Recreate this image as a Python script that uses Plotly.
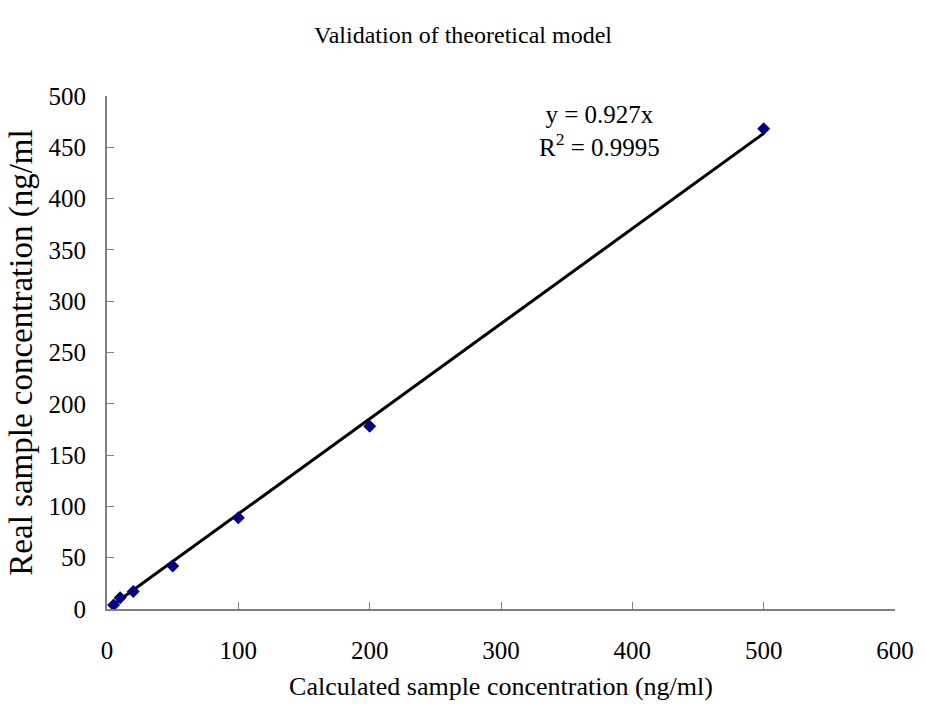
import plotly.graph_objects as go

# Calculated vs. real sample concentrations (ng/ml)
calculated = [5, 10, 20, 50, 100, 200, 500]
real = [4, 11, 17, 42, 89, 178, 468]

# Linear fit forced through the origin
slope = 0.927
r_squared = 0.9995
fit_x = [min(calculated), max(calculated)]
fit_y = [slope * v for v in fit_x]

font_family = "Liberation Serif, Times New Roman, serif"
axis_grey = "#808080"

fig = go.Figure()
fig.add_trace(go.Scatter(
    x=fit_x, y=fit_y, mode="lines",
    line=dict(color="black", width=3),
    showlegend=False, hoverinfo="skip",
))
fig.add_trace(go.Scatter(
    x=calculated, y=real, mode="markers",
    marker=dict(symbol="diamond", color="#000080", size=10),
    showlegend=False,
))

fig.add_annotation(
    x=0.625, y=0.995, xref="paper", yref="paper",
    text=f"y = {slope}x<br>R<sup>2</sup> = {r_squared}",
    showarrow=False, align="center", xanchor="center", yanchor="top",
    font=dict(family=font_family, size=25, color="black"),
)

fig.update_layout(
    width=926, height=713,
    margin=dict(l=107, r=25, t=96, b=104),
    paper_bgcolor="white", plot_bgcolor="white",
    font=dict(family=font_family, size=25, color="black"),
    title=dict(
        text="Validation of theoretical model",
        x=0.5, xanchor="center", y=0.952, yanchor="middle",
        font=dict(family=font_family, size=24, color="black"),
    ),
)
fig.update_xaxes(
    range=[0, 600], dtick=100, showgrid=False, zeroline=False,
    showline=True, linecolor=axis_grey, linewidth=2,
    ticks="inside", ticklen=7, tickcolor=axis_grey, tickwidth=1,
    ticklabelstandoff=18, tickfont=dict(size=25),
    title=dict(text="Calculated sample concentration (ng/ml)", standoff=14,
               font=dict(size=26)),
)
fig.update_yaxes(
    range=[0, 500], dtick=50, showgrid=False, zeroline=False,
    showline=True, linecolor=axis_grey, linewidth=2,
    ticks="inside", ticklen=7, tickcolor=axis_grey, tickwidth=1,
    ticklabelstandoff=14, tickfont=dict(size=25),
    title=dict(text="Real sample concentration (ng/ml", standoff=6,
               font=dict(size=33)),
)

fig.write_html("out.html")
